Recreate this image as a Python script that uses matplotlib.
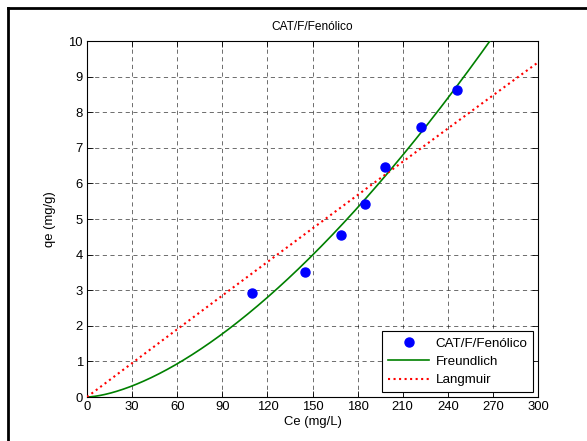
import numpy as np
import matplotlib
matplotlib.use("Agg")
import matplotlib.pyplot as plt
from matplotlib.lines import Line2D

plt.rcParams['font.family'] = ['Liberation Sans', 'DejaVu Sans']

# Experimental equilibrium data
ce_data = [110, 145, 169, 185, 198, 222, 246]          # Ce (mg/L)
qe_data = [2.92, 3.51, 4.55, 5.43, 6.46, 7.58, 8.61]   # qe (mg/g)

# Fitted isotherm parameters
kf, inv_n = 0.001417, 1.585        # Freundlich: qe = Kf * Ce^(1/n)
qmax, kl = 636.0, 5.0e-5           # Langmuir: qe = qmax*KL*Ce / (1 + KL*Ce)

x_ticks = [0, 30, 60, 90, 120, 150, 180, 210, 240, 270, 300]
y_ticks = list(range(0, 11))

ce_fit = np.linspace(0, 300, 400)
q_freundlich = kf * ce_fit ** inv_n
q_langmuir = qmax * kl * ce_fit / (1 + kl * ce_fit)

fig = plt.figure(figsize=(5.87, 4.41), dpi=100)
ax = fig.add_axes([87 / 587, 1 - 397 / 441, (538 - 87) / 587, (397 - 41) / 441])

ax.plot(ce_data, qe_data, 'o', color='blue', markersize=6.5,
        markeredgecolor='blue', label='CAT/F/Fenólico', zorder=4)
ax.plot(ce_fit, q_freundlich, '-', color='#008000', linewidth=1.2,
        label='Freundlich', zorder=3)
ax.plot(ce_fit, q_langmuir, ':', color='red', linewidth=1.5,
        label='Langmuir', zorder=3)

ax.set_xlim(0, 300)
ax.set_ylim(0, 10)
ax.set_xticks(x_ticks)
ax.set_yticks(y_ticks)
ax.tick_params(direction='in', top=True, right=True, labelsize=9.4,
               length=4, width=0.6, pad=3)
ax.grid(True, color='black', linestyle=(0, (6, 5)), linewidth=0.5, alpha=0.8)
for s in ax.spines.values():
    s.set_linewidth(0.8)

ax.set_title('CAT/F/Fenólico', fontsize=8.6, pad=8)
ax.set_xlabel('Ce (mg/L)', fontsize=9.4, labelpad=2)
ax.set_ylabel('qe (mg/g)', fontsize=9.4, labelpad=9)

leg = ax.legend(loc='lower right', fontsize=9.6, fancybox=False, framealpha=1,
                edgecolor='black', borderaxespad=0.35, handlelength=3.1,
                handletextpad=0.45, borderpad=0.45, labelspacing=0.45,
                numpoints=1)
leg.get_frame().set_linewidth(0.8)

# Outer frame around the figure (left and top edges)
fig.add_artist(Line2D([8 / 587, 8 / 587], [0, 1 - 8 / 441], color='black',
                      linewidth=2, transform=fig.transFigure))
fig.add_artist(Line2D([8 / 587, 1], [1 - 8 / 441, 1 - 8 / 441], color='black',
                      linewidth=2, transform=fig.transFigure))

fig.savefig('out.png', dpi=100)
